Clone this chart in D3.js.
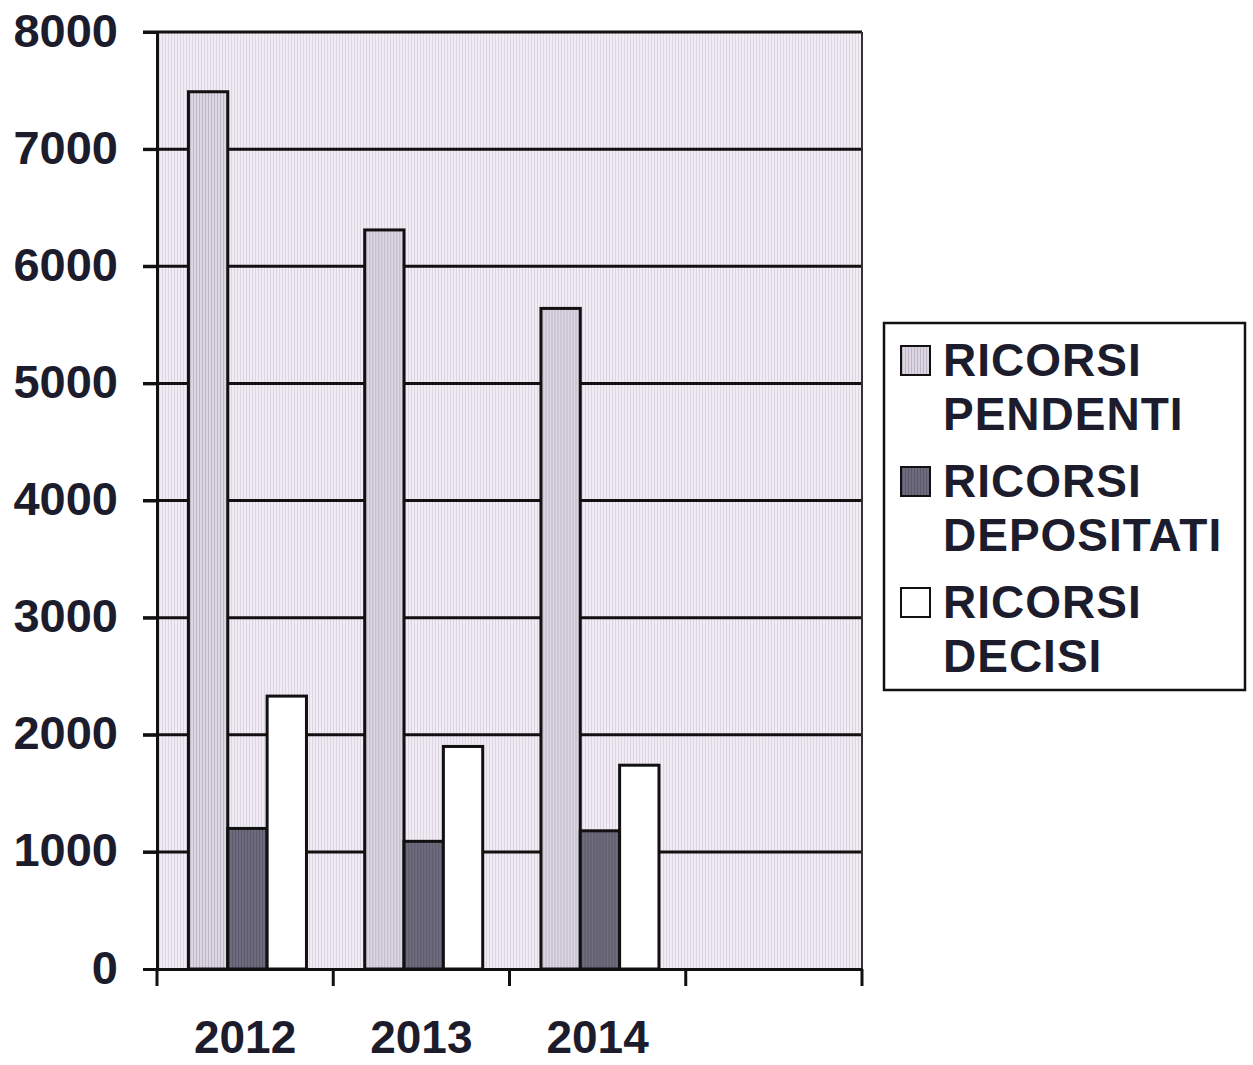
<!DOCTYPE html>
<html>
<head>
<meta charset="utf-8">
<script src="https://cdn.jsdelivr.net/npm/d3@7"></script>
<style>
  body { margin: 0; background: #fff; }
  text { font-family: "Liberation Sans", Arial, sans-serif; font-weight: bold; fill: #1c1c2c; }
</style>
</head>
<body>
<svg id="chart"></svg>
<script>
// values
var years = ["2012", "2013", "2014", ""];
var seriesNames = ["RICORSI PENDENTI", "RICORSI DEPOSITATI", "RICORSI DECISI"];
var pendenti = [7490, 6310, 5640];
var depositati = [1200, 1090, 1180];
var decisi = [2330, 1900, 1740];
var yTicks = [0, 1000, 2000, 3000, 4000, 5000, 6000, 7000, 8000];

function drawChart() {
    var width = 1253, height = 1065;
    var mLeft = 157, mRight = 862, mTop = 32, mBottom = 969;

    var svg = d3.select("#chart").attr("width", width).attr("height", height);
    var defs = svg.append("defs");

    // scanned vertical stripe texture
    function stripes(id, base, line) {
        var p = defs.append("pattern").attr("id", id)
            .attr("patternUnits", "userSpaceOnUse").attr("width", 3).attr("height", 3);
        p.append("rect").attr("width", 3).attr("height", 3).attr("fill", base);
        p.append("rect").attr("width", 1).attr("height", 3).attr("fill", line);
    }
    stripes("bg", "#f1ecf3", "#dcd6e4");
    stripes("pend", "#dcd6e2", "#bdb7c8");
    stripes("dep", "#6e6c7c", "#5a586a");

    var colors = ["url(#pend)", "url(#dep)", "#ffffff"];

    var x = d3.scaleBand().domain(years).range([mLeft, mRight]);
    var xSub = d3.scaleBand().domain(d3.range(3)).range([0, x.bandwidth()])
        .paddingOuter(0.74).align(0.54);
    var y = d3.scaleLinear().domain([0, 8000]).range([mBottom, mTop]);

    // plot area
    svg.append("rect")
        .attr("x", mLeft).attr("y", mTop)
        .attr("width", mRight - mLeft).attr("height", mBottom - mTop)
        .attr("fill", "url(#bg)");

    // gridlines
    svg.append("g").selectAll("line")
        .data(yTicks.filter(function (d) { return d > 0; }))
        .enter().append("line")
        .attr("x1", mLeft - 14).attr("x2", mRight)
        .attr("y1", function (d) { return y(d); })
        .attr("y2", function (d) { return y(d); })
        .style("stroke", "#111").style("stroke-width", 3);

    svg.append("line")
        .attr("x1", mRight).attr("x2", mRight).attr("y1", mTop).attr("y2", mBottom)
        .style("stroke", "#333").style("stroke-width", 2);

    // bars
    var rows = years.slice(0, 3).map(function (yr, i) {
        return { year: yr, values: [pendenti[i], depositati[i], decisi[i]] };
    });

    var groups = svg.append("g").selectAll("g")
        .data(rows)
        .enter().append("g")
        .attr("transform", function (d) { return "translate(" + x(d.year) + ",0)"; });

    groups.selectAll("rect")
        .data(function (d) { return d.values; })
        .enter().append("rect")
        .attr("x", function (d, i) { return xSub(i); })
        .attr("width", xSub.bandwidth())
        .attr("y", function (d) { return y(d); })
        .attr("height", function (d) { return mBottom - y(d); })
        .attr("fill", function (d, i) { return colors[i]; })
        .style("stroke", "#111").style("stroke-width", 3);

    // y axis
    var yAxis = svg.append("g").attr("transform", "translate(" + mLeft + ",0)")
        .call(d3.axisLeft(y).tickValues(yTicks).tickSize(14).tickPadding(25).tickFormat(d3.format("d")));
    yAxis.select(".domain").style("stroke", "#111").style("stroke-width", 3);
    yAxis.selectAll(".tick line").style("stroke", "#111").style("stroke-width", 3);
    yAxis.selectAll("text").attr("font-size", null).style("font-size", "47px")
        .attr("dy", "0.3em").attr("fill", null).style("fill", "#1c1c2c");

    // x axis
    var xAxis = svg.append("g").attr("transform", "translate(0," + mBottom + ")")
        .call(d3.axisBottom(x).tickSize(0).tickPadding(61));
    xAxis.select(".domain").style("stroke", "#111").style("stroke-width", 3);
    xAxis.selectAll("text").style("font-size", "46px").attr("fill", null).style("fill", "#1c1c2c").attr("dy", "0.5em");

    svg.append("g").selectAll("line")
        .data(d3.range(5))
        .enter().append("line")
        .attr("x1", function (d) { return mLeft + d * x.step(); })
        .attr("x2", function (d) { return mLeft + d * x.step(); })
        .attr("y1", mBottom).attr("y2", mBottom + 17)
        .style("stroke", "#111").style("stroke-width", 3);

    // legend
    var legend = svg.append("g").attr("transform", "translate(884,323)");
    legend.append("rect").attr("width", 361).attr("height", 367)
        .attr("fill", "#fff").style("stroke", "#111").style("stroke-width", 2.5);

    var items = legend.selectAll("g.item")
        .data(seriesNames)
        .enter().append("g").attr("class", "item")
        .attr("transform", function (d, i) { return "translate(0," + (i * 121) + ")"; });

    items.append("rect")
        .attr("x", 17).attr("y", 23).attr("width", 29).attr("height", 29)
        .attr("fill", function (d, i) { return colors[i]; })
        .style("stroke", "#111").style("stroke-width", 2);

    items.each(function (d) {
        var parts = d.split(" ");
        var g = d3.select(this);
        parts.forEach(function (p, j) {
            g.append("text")
                .attr("x", 59).attr("y", 53 + j * 54)
                .style("font-size", "46px").style("letter-spacing", "1px")
                .text(p);
        });
    });
}

drawChart();
</script>
</body>
</html>
